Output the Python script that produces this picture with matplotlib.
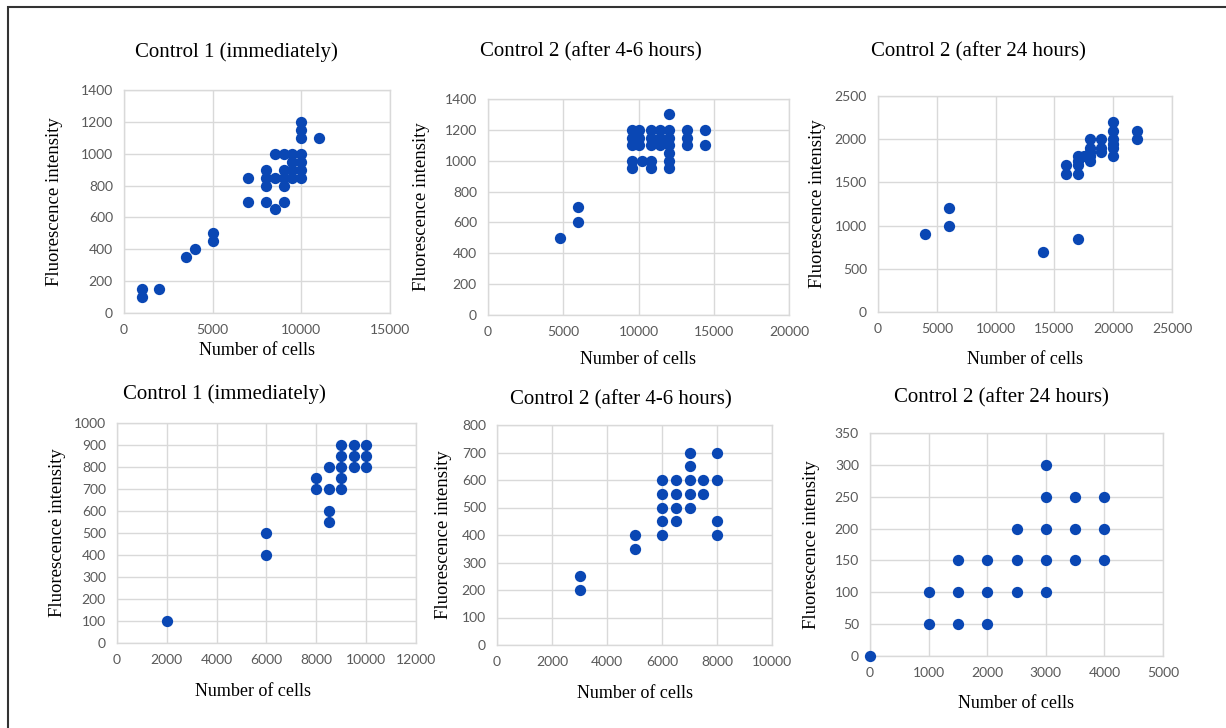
import matplotlib
matplotlib.use("Agg")
import matplotlib.pyplot as plt
from matplotlib.patches import Rectangle

W, H = 1226, 728

# ---- data ----
titles = ["Control 1 (immediately)", "Control 2 (after 4-6 hours)", "Control 2 (after 24 hours)",
          "Control 1 (immediately)", "Control 2 (after 4-6 hours)", "Control 2 (after 24 hours)"]

cells_1 = [1000, 1000, 2000, 3500, 4000, 5000, 5000, 7000, 7000,
           8000, 8000, 8000, 8000, 8500, 8500, 8500,
           9000, 9000, 9000, 9000, 9000, 9500, 9500, 9500, 9500,
           10000, 10000, 10000, 10000, 10000, 10000, 10000, 11000]
fluo_1 = [150, 100, 150, 350, 400, 500, 450, 850, 700,
          900, 850, 800, 700, 1000, 850, 650,
          1000, 900, 850, 800, 700, 1000, 950, 900, 850,
          1200, 1150, 1100, 1000, 950, 900, 850, 1100]

cells_2 = [4800, 6000, 6000,
           9600, 9600, 9600, 9600, 9600, 10000, 10000, 10000, 10200,
           10800, 10800, 10800, 10800, 10800, 11400, 11400, 11400,
           12000, 12000, 12000, 12000, 12000, 12000, 12000,
           13200, 13200, 13200, 14400, 14400]
fluo_2 = [500, 700, 600,
          1200, 1150, 1100, 1000, 950, 1200, 1150, 1100, 1000,
          1200, 1150, 1100, 1000, 950, 1200, 1150, 1100,
          1300, 1200, 1150, 1100, 1050, 1000, 950,
          1200, 1150, 1100, 1200, 1100]

cells_3 = [4000, 6000, 6000, 14000, 17000, 16000, 16000,
           17000, 17000, 17000, 17000, 17500,
           18000, 18000, 18000, 18000, 18000, 19000, 19000, 19000,
           20000, 20000, 20000, 20000, 20000, 20000, 22000, 22000]
fluo_3 = [900, 1200, 1000, 700, 850, 1700, 1600,
          1800, 1750, 1700, 1600, 1800,
          2000, 1900, 1850, 1800, 1750, 2000, 1900, 1850,
          2200, 2100, 2000, 1950, 1900, 1800, 2100, 2000]

cells_4 = [2000, 6000, 6000, 8000, 8000, 8500, 8500, 8500, 8500,
           9000, 9000, 9000, 9000, 9000, 9500, 9500, 9500, 10000, 10000, 10000]
fluo_4 = [100, 500, 400, 750, 700, 800, 700, 600, 550,
          900, 850, 800, 750, 700, 900, 850, 800, 900, 850, 800]

cells_5 = [3000, 3000, 5000, 5000, 6000, 6000, 6000, 6000, 6000,
           6500, 6500, 6500, 6500, 7000, 7000, 7000, 7000, 7000,
           7500, 7500, 8000, 8000, 8000, 8000]
fluo_5 = [250, 200, 400, 350, 600, 550, 500, 450, 400,
          600, 550, 500, 450, 700, 650, 600, 550, 500,
          600, 550, 700, 600, 450, 400]

cells_6 = [0, 1000, 1000, 1500, 1500, 1500, 2000, 2000, 2000,
           2500, 2500, 2500, 3000, 3000, 3000, 3000, 3000,
           3500, 3500, 3500, 4000, 4000, 4000]
fluo_6 = [0, 100, 50, 150, 100, 50, 150, 100, 50,
          200, 150, 100, 300, 250, 200, 150, 100,
          250, 200, 150, 250, 200, 150]

series = [(cells_1, fluo_1), (cells_2, fluo_2), (cells_3, fluo_3),
          (cells_4, fluo_4), (cells_5, fluo_5), (cells_6, fluo_6)]

xlims = [(0, 15000, 5000), (0, 20000, 5000), (0, 25000, 5000),
         (0, 12000, 2000), (0, 10000, 2000), (0, 5000, 1000)]
ylims = [(0, 1400, 200), (0, 1400, 200), (0, 2500, 500),
         (0, 1000, 100), (0, 800, 100), (0, 350, 50)]

# ---- layout in pixels: (left, top, right, bottom) of plot areas ----
boxes = [(124, 90, 390, 313), (488, 99, 789, 315), (878, 96, 1172, 312),
         (117, 423, 416, 643), (497, 425, 772, 645), (870, 433, 1163, 656)]
title_pos = [(236, 52), (591, 52), (978, 52), (224, 394), (621, 400), (1001, 398)]
xlabel_pos = [(257, 350), (638, 360), (1025, 360), (253, 692), (635, 693), (1016, 703)]
ylabel_pos = [(55, 202), (421, 207), (818, 204), (58, 533), (444, 535), (812, 545)]

BLUE = "#0a47b4"
GRID = "#d9d9d9"
TICK = "#595959"
SERIF = "Liberation Serif"


def main():
    fig = plt.figure(figsize=(W / 100, H / 100), dpi=100)

    for i, (xs, ys) in enumerate(series):
        l, t, r, b = boxes[i]
        ax = fig.add_axes([l / W, 1 - b / H, (r - l) / W, (b - t) / H])
        ax.scatter(xs, ys, s=66, color=BLUE, zorder=3, clip_on=False, linewidths=0)

        x0, x1, dx = xlims[i]
        y0, y1, dy = ylims[i]
        ax.set_xlim(x0, x1)
        ax.set_ylim(y0, y1)
        ax.set_xticks(range(x0, x1 + 1, dx))
        ax.set_yticks(range(y0, y1 + 1, dy))
        ax.grid(True, color=GRID, linewidth=1.0)
        ax.set_axisbelow(True)
        for sp in ax.spines.values():
            sp.set_color(GRID)
            sp.set_linewidth(1.0)
        ax.tick_params(length=0, labelsize=10, labelcolor=TICK, pad=8)
        for lab in ax.get_xticklabels() + ax.get_yticklabels():
            lab.set_fontfamily("Lato")

        tx, ty = title_pos[i]
        fig.text(tx / W, 1 - ty / H, titles[i], ha="center", va="center",
                 fontsize=15, family=SERIF)
        lx, ly = xlabel_pos[i]
        fig.text(lx / W, 1 - ly / H, "Number of cells", ha="center", va="center",
                 fontsize=13, family=SERIF)
        yx, yy = ylabel_pos[i]
        fig.text(yx / W, 1 - yy / H, "Fluorescence intensity", ha="center", va="center",
                 rotation=90, fontsize=13.5, family=SERIF)

    # outer frame (only top and left edges fall inside the picture)
    frame = Rectangle((8 / W, -0.1), 1.2, 1 - 7 / H + 0.1, transform=fig.transFigure,
                      fill=False, edgecolor="#333333", linewidth=1.5)
    fig.patches.append(frame)

    fig.savefig("out.png", dpi=100)


if __name__ == "__main__":
    main()
